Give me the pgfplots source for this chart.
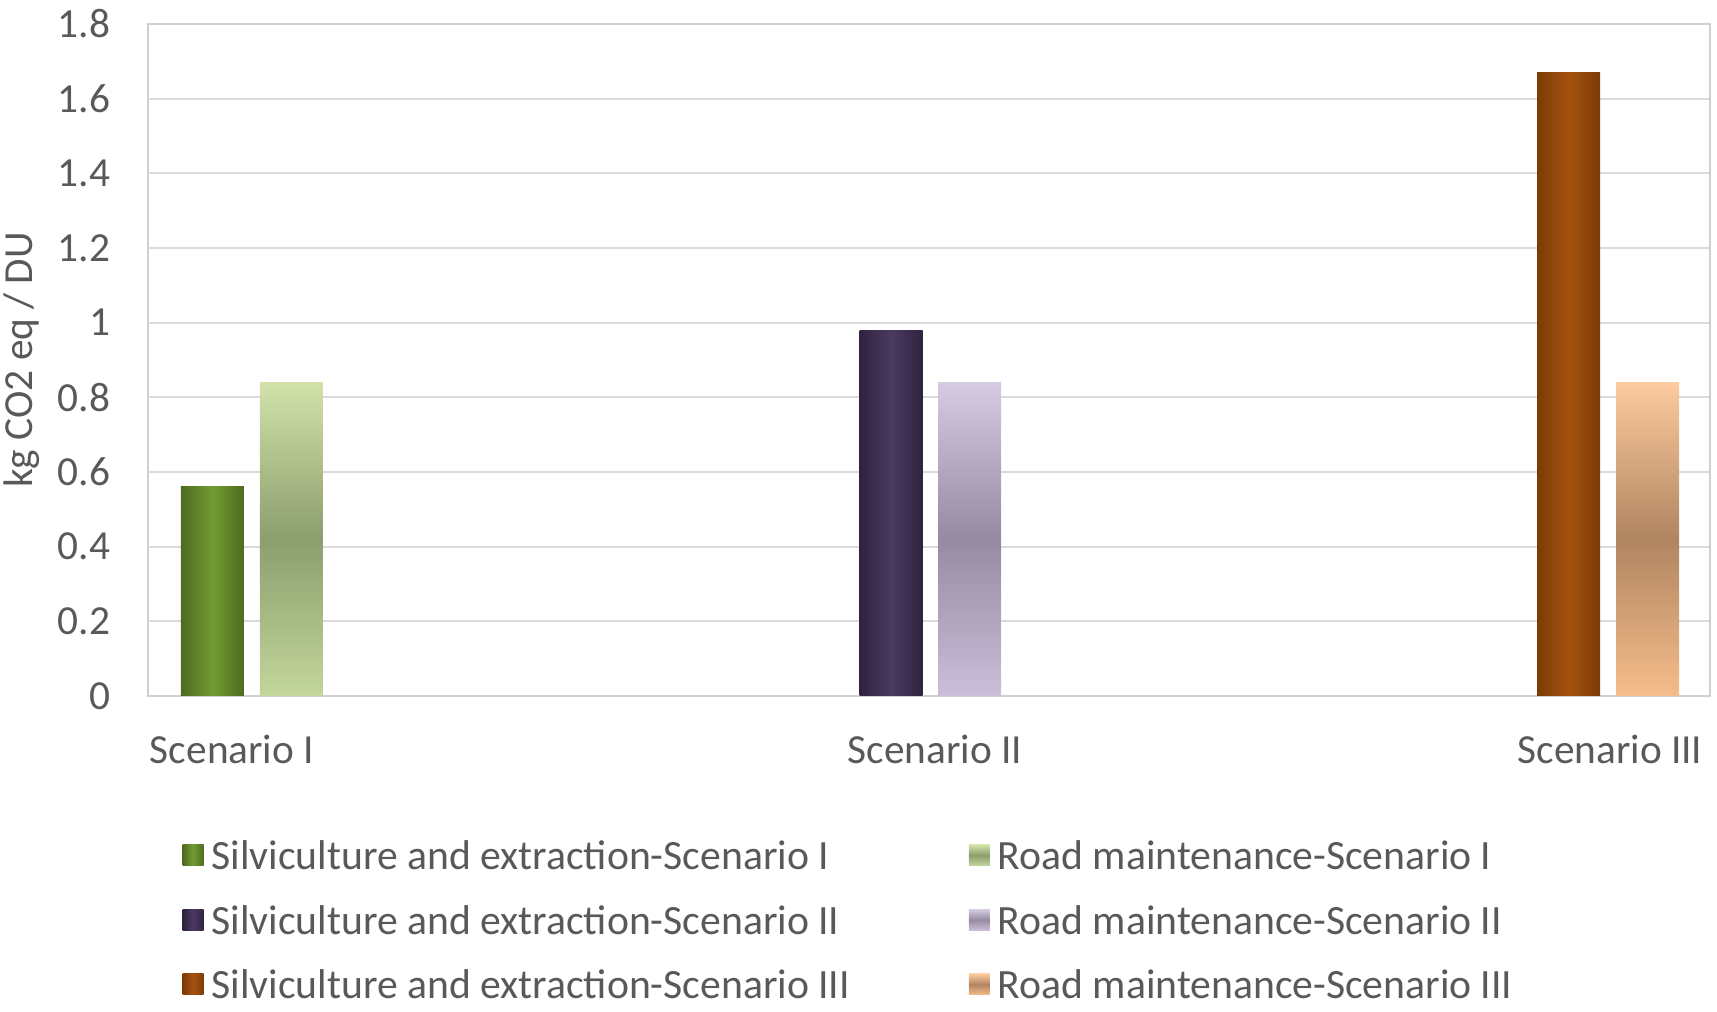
\documentclass[border=0pt]{standalone}
\usepackage{pgfplots}
\pgfplotsset{compat=1.18}
\usepackage{fontspec}
\setmainfont{Carlito}
\definecolor{txt}{HTML}{595959}
\definecolor{gridc}{HTML}{D9D9D9}
\definecolor{framec}{HTML}{D0D0D0}
\definecolor{sIe}{HTML}{4E6B1F}\definecolor{sIm}{HTML}{739B33}
\definecolor{sIIe}{HTML}{2F233F}\definecolor{sIIm}{HTML}{4A3A62}
\definecolor{sIIIe}{HTML}{7B3B06}\definecolor{sIIIm}{HTML}{A5520F}
\definecolor{rIt}{HTML}{D2E2AA}\definecolor{rIm}{HTML}{8C9E6E}\definecolor{rIb}{HTML}{C3D69B}
\definecolor{rIIt}{HTML}{D6CCE2}\definecolor{rIIm}{HTML}{958BA1}\definecolor{rIIb}{HTML}{CABED9}
\definecolor{rIIIt}{HTML}{FDCB9E}\definecolor{rIIIm}{HTML}{B08561}\definecolor{rIIIb}{HTML}{F6BD8B}
\pgfplotsset{
  mybar/.style={ybar, bar width=63, bar shift=0pt, draw=none},
}
\begin{document}
\begin{tikzpicture}
\begin{axis}[name=ax, at={(0,0)}, anchor=south west,
  scale only axis, width=468.6pt, height=201.6pt,
  xmin=148, xmax=1710, ymin=0, ymax=1.8,
  ytick={0,0.2,0.4,0.6,0.8,1,1.2,1.4,1.6,1.8},
  xtick={232,935,1610},
  xticklabels={Scenario I, Scenario II, Scenario III},
  major tick length=0pt,
  ymajorgrids, grid style={draw=gridc, line width=0.6pt},
  axis line style={draw=framec, line width=0.6pt},
  tick label style={font=\fontsize{12.4}{14}\selectfont, text=txt},
  /pgf/number format/assume math mode=true,
  yticklabel style={anchor=east, inner sep=0pt, xshift=-11.1pt},
  xticklabel style={anchor=base, inner sep=0pt, yshift=-20.4pt},
  ylabel={kg CO2 eq / DU},
  ylabel style={at={(axis description cs:-0.0807,0.5)}, anchor=center,
    font=\fontsize{12.4}{14}\selectfont, text=txt},
  legend columns=2,
  legend cell align=left,
  legend style={at={(axis description cs:0,0)}, anchor=north west,
    xshift=10.2pt, yshift=-43.2pt, draw=none, fill=none, inner sep=0pt,
    font=\fontsize{12.5}{14}\selectfont, text=txt,
    nodes={inner sep=0pt}, row sep=9.2pt,
    /tikz/every odd column/.append style={column sep=2.4pt},
    /tikz/every even column/.append style={column sep=35.6pt}},
  legend image code/.code={\path[#1] (0pt,-2.45pt) rectangle (6.3pt,3.85pt);},
]
\addplot[mybar, left color=sIe, right color=sIe, middle color=sIm] coordinates {(212.5,0.56)};
\addlegendentry{Silviculture and extraction-Scenario I}
\addplot[mybar, top color=rIt, bottom color=rIb, middle color=rIm] coordinates {(291.5,0.84)};
\addlegendentry{Road maintenance-Scenario I}
\addplot[mybar, left color=sIIe, right color=sIIe, middle color=sIIm] coordinates {(891,0.98)};
\addlegendentry{Silviculture and extraction-Scenario II}
\addplot[mybar, top color=rIIt, bottom color=rIIb, middle color=rIIm] coordinates {(969.5,0.84)};
\addlegendentry{Road maintenance-Scenario II}
\addplot[mybar, left color=sIIIe, right color=sIIIe, middle color=sIIIm] coordinates {(1568.5,1.67)};
\addlegendentry{Silviculture and extraction-Scenario III}
\addplot[mybar, top color=rIIIt, bottom color=rIIIb, middle color=rIIIm] coordinates {(1647.5,0.84)};
\addlegendentry{Road maintenance-Scenario III}
\end{axis}
\pgfresetboundingbox
\path[use as bounding box] ([shift={(-44.4pt,-94.8pt)}]ax.south west) rectangle ([shift={(2.1pt,7.2pt)}]ax.north east);
\end{tikzpicture}
\end{document}
